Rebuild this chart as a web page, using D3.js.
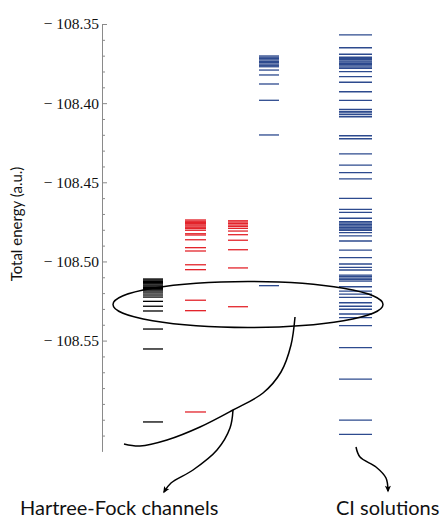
<!DOCTYPE html>
<html>
<head>
<meta charset="utf-8">
<script src="https://cdn.jsdelivr.net/npm/d3@7"></script>
<style>
  body { margin: 0; background: #fff; }
</style>
</head>
<body>
<div id="chart"></div>
<script>
// energy levels (a.u.) for each column
const columns = ["hf1", "hf2", "hf3", "hf4", "ci"];
const hf1Levels = [-108.5111, -108.5118, -108.5126, -108.5134, -108.5141, -108.5149, -108.5156,
  -108.5164, -108.5172, -108.5179, -108.5187, -108.5199, -108.5212, -108.5225, -108.5252,
  -108.5283, -108.5313, -108.5427, -108.5553, -108.6014];
const hf2Levels = [-108.4738, -108.4746, -108.4753, -108.4761, -108.4769, -108.4776, -108.4784,
  -108.4792, -108.4803, -108.4825, -108.4833, -108.4863, -108.4913, -108.4934, -108.5021,
  -108.5052, -108.5245, -108.5311, -108.5951];
const hf3Levels = [-108.4743, -108.4751, -108.476, -108.477, -108.4779, -108.4791, -108.4808,
  -108.4831, -108.4866, -108.4926, -108.5041, -108.5286];
const hf4Levels = [-108.3702, -108.371, -108.3719, -108.3727, -108.3736, -108.3744, -108.3753,
  -108.3761, -108.377, -108.3791, -108.3822, -108.3879, -108.3982, -108.4201, -108.5153];
const ciLevels = [-108.3569, -108.365, -108.3691, -108.371, -108.3718, -108.3726, -108.3734,
  -108.3741, -108.3749, -108.3756, -108.3764, -108.3772, -108.378, -108.3801, -108.3832,
  -108.3868, -108.3928, -108.3982, -108.404, -108.4053, -108.4062, -108.4073, -108.4086,
  -108.4206, -108.4225, -108.4321, -108.4391, -108.4439, -108.4479, -108.4601, -108.4671,
  -108.469, -108.4727, -108.4749, -108.4757, -108.4767, -108.4776, -108.4786, -108.4795,
  -108.4803, -108.4818, -108.4839, -108.4871, -108.4928, -108.4976, -108.5016, -108.5037,
  -108.5054, -108.5086, -108.5095, -108.5105, -108.5114, -108.5124, -108.516, -108.5187,
  -108.5206, -108.5227, -108.5261, -108.5283, -108.5302, -108.5332, -108.5355, -108.5406,
  -108.5545, -108.5743, -108.6002, -108.6092];
const majorTicks = [-108.35, -108.40, -108.45, -108.50, -108.55];
const yDomain = [-108.35, -108.62];

const levelsByColumn = {
  hf1: hf1Levels, hf2: hf2Levels, hf3: hf3Levels, hf4: hf4Levels, ci: ciLevels
};

const width = 443, height = 520;
const svg = d3.select("#chart").append("svg")
  .attr("width", width)
  .attr("height", height);

const y = d3.scaleLinear().domain(yDomain).range([24, 451.4]);
const xCenter = d3.scaleOrdinal().domain(columns).range([153, 195.5, 238, 269, 355.5]);
const halfWidth = d3.scaleOrdinal().domain(columns).range([10, 10.5, 10, 10, 16.5]);
const color = d3.scaleOrdinal().domain(columns)
  .range(["#000000", "#e3242b", "#e3242b", "#2d4a8e", "#2d4a8e"]);

// axis
const axisX = 102;
const minorTicks = d3.range(-108.36, -108.615, -0.01)
  .filter((v) => !majorTicks.some((m) => Math.abs(m - v) < 1e-6));

svg.append("g")
  .attr("transform", `translate(${axisX},0)`)
  .call(d3.axisLeft(y).tickValues(minorTicks).tickSize(-3).tickFormat(""))
  .call((g) => g.select(".domain").remove())
  .call((g) => g.selectAll("line").attr("stroke", "#8a8a8a"));

const yAxis = svg.append("g")
  .attr("transform", `translate(${axisX},0)`)
  .call(d3.axisLeft(y).tickValues(majorTicks).tickSizeInner(-5).tickSizeOuter(0)
    .tickPadding(3)
    .tickFormat((d) => "\u2212 " + Math.abs(d).toFixed(2)));
yAxis.select(".domain").attr("stroke", "#8a8a8a");
yAxis.selectAll("line").attr("stroke", "#8a8a8a");
yAxis.selectAll("text")
  .attr("fill", "#111")
  .style("font-family", "'Liberation Serif', 'DejaVu Serif', serif")
  .style("font-size", "15.5px");

svg.append("text")
  .attr("transform", "rotate(-90)")
  .attr("x", -224)
  .attr("y", 22)
  .attr("text-anchor", "middle")
  .style("font-family", "Lato, 'Open Sans', sans-serif")
  .style("font-size", "15px")
  .attr("fill", "#111")
  .text("Total energy (a.u.)");

// energy levels
const levelData = columns.flatMap((c) => levelsByColumn[c].map((e) => ({ col: c, e })));
svg.append("g")
  .selectAll("line")
  .data(levelData)
  .join("line")
  .attr("x1", (d) => xCenter(d.col) - halfWidth(d.col))
  .attr("x2", (d) => xCenter(d.col) + halfWidth(d.col))
  .attr("y1", (d) => y(d.e))
  .attr("y2", (d) => y(d.e))
  .attr("stroke", (d) => color(d.col))
  .attr("stroke-width", 1.3);

// annotation: ellipse, curves and arrows
svg.append("defs").append("marker")
  .attr("id", "arrow")
  .attr("viewBox", "-6 -5 12 10")
  .attr("refX", 2)
  .attr("refY", 0)
  .attr("markerWidth", 9)
  .attr("markerHeight", 9)
  .attr("markerUnits", "userSpaceOnUse")
  .attr("orient", "auto")
  .append("path")
  .attr("d", "M-5,-4L4,0L-5,4L-3,0Z")
  .attr("fill", "#000");

svg.append("ellipse")
  .attr("cx", 248)
  .attr("cy", 304.5)
  .attr("rx", 135)
  .attr("ry", 23)
  .attr("fill", "none")
  .attr("stroke", "#000")
  .attr("stroke-width", 1.5);

const curve = d3.line().curve(d3.curveCatmullRom.alpha(0.5));
const hookPts = [[295, 317], [291, 345], [281, 372], [263, 393], [233, 410], [200, 427],
  [167, 440], [140, 446], [124, 444]];
const hfArrowPts = [[233, 410], [230, 428], [217, 450], [193, 470], [171, 483], [164, 492]];
const ciArrowPts = [[356, 447], [360, 457], [376, 467], [386, 478], [388, 491]];

svg.append("path").attr("d", curve(hookPts))
  .attr("fill", "none").attr("stroke", "#000").attr("stroke-width", 1.5);
svg.append("path").attr("d", curve(hfArrowPts))
  .attr("fill", "none").attr("stroke", "#000").attr("stroke-width", 1.5)
  .attr("marker-end", "url(#arrow)");
svg.append("path").attr("d", curve(ciArrowPts))
  .attr("fill", "none").attr("stroke", "#000").attr("stroke-width", 1.5)
  .attr("marker-end", "url(#arrow)");

svg.append("text")
  .attr("x", 20)
  .attr("y", 515)
  .style("font-family", "Lato, 'Open Sans', sans-serif")
  .style("font-size", "20px")
  .attr("fill", "#111")
  .text("Hartree-Fock channels");
svg.append("text")
  .attr("x", 336)
  .attr("y", 515)
  .style("font-family", "Lato, 'Open Sans', sans-serif")
  .style("font-size", "20px")
  .attr("fill", "#111")
  .text("CI solutions");
</script>
</body>
</html>
